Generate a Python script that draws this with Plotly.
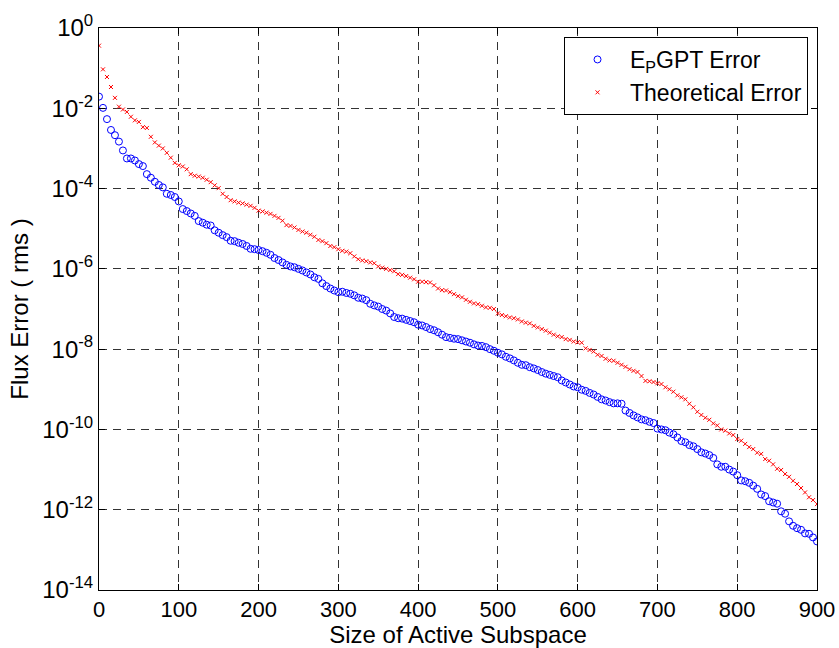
import plotly.graph_objects as go

# Size of active subspace (x values, every 5)
subspace_size = list(range(0, 901, 5))

# log10 of flux error
epgpt_error_exp = [
    -1.71, -1.99, -2.27, -2.54, -2.67, -2.83, -3.05, -3.25, -3.25, -3.30,
    -3.39, -3.44, -3.64, -3.73, -3.83, -3.91, -3.97, -4.13, -4.16, -4.21,
    -4.32, -4.51, -4.56, -4.62, -4.68, -4.81, -4.85, -4.90, -4.92, -5.04,
    -5.10, -5.16, -5.21, -5.30, -5.31, -5.35, -5.38, -5.43, -5.50, -5.51,
    -5.53, -5.56, -5.60, -5.65, -5.73, -5.78, -5.84, -5.90, -5.94, -5.96,
    -6.00, -6.04, -6.09, -6.14, -6.21, -6.25, -6.36, -6.43, -6.49, -6.54,
    -6.58, -6.57, -6.60, -6.62, -6.66, -6.72, -6.74, -6.78, -6.87, -6.91,
    -6.94, -7.00, -7.04, -7.11, -7.20, -7.23, -7.24, -7.27, -7.30, -7.33,
    -7.39, -7.41, -7.45, -7.50, -7.53, -7.58, -7.64, -7.70, -7.72, -7.74,
    -7.75, -7.78, -7.81, -7.84, -7.88, -7.91, -7.92, -7.95, -8.00, -8.04,
    -8.09, -8.13, -8.19, -8.23, -8.28, -8.34, -8.39, -8.40, -8.45, -8.48,
    -8.52, -8.57, -8.61, -8.64, -8.67, -8.70, -8.78, -8.83, -8.88, -8.93,
    -8.95, -9.01, -9.04, -9.09, -9.13, -9.19, -9.25, -9.28, -9.32, -9.35,
    -9.35, -9.36, -9.53, -9.59, -9.65, -9.70, -9.75, -9.77, -9.81, -9.84,
    -9.98, -10.00, -10.02, -10.08, -10.12, -10.20, -10.29, -10.32, -10.39, -10.42,
    -10.49, -10.57, -10.60, -10.64, -10.71, -10.87, -10.93, -10.93, -11.00, -11.05,
    -11.14, -11.27, -11.29, -11.33, -11.40, -11.48, -11.62, -11.66, -11.79, -11.82,
    -11.85, -12.04, -12.10, -12.29, -12.40, -12.46, -12.50, -12.59, -12.60, -12.69,
    -12.79,
]

theoretical_error_exp = [
    -0.44, -1.03, -1.22, -1.47, -1.74, -1.96, -2.03, -2.09, -2.21, -2.30,
    -2.34, -2.47, -2.49, -2.71, -2.85, -2.93, -3.00, -3.11, -3.23, -3.36,
    -3.42, -3.45, -3.52, -3.64, -3.68, -3.70, -3.73, -3.78, -3.84, -3.92,
    -3.99, -4.13, -4.21, -4.29, -4.32, -4.35, -4.37, -4.40, -4.43, -4.48,
    -4.55, -4.57, -4.60, -4.63, -4.68, -4.73, -4.80, -4.91, -4.93, -4.97,
    -5.03, -5.07, -5.10, -5.15, -5.20, -5.28, -5.31, -5.36, -5.43, -5.46,
    -5.51, -5.55, -5.57, -5.61, -5.69, -5.76, -5.79, -5.81, -5.84, -5.86,
    -5.94, -5.97, -6.00, -6.03, -6.06, -6.13, -6.15, -6.18, -6.22, -6.26,
    -6.32, -6.32, -6.33, -6.34, -6.41, -6.49, -6.53, -6.54, -6.58, -6.63,
    -6.68, -6.71, -6.77, -6.82, -6.86, -6.88, -6.92, -6.96, -6.97, -7.00,
    -7.11, -7.15, -7.18, -7.21, -7.23, -7.26, -7.31, -7.34, -7.36, -7.42,
    -7.46, -7.50, -7.54, -7.59, -7.64, -7.68, -7.70, -7.75, -7.77, -7.81,
    -7.83, -7.84, -7.98, -8.02, -8.06, -8.14, -8.17, -8.24, -8.28, -8.29,
    -8.34, -8.39, -8.44, -8.50, -8.54, -8.57, -8.67, -8.79, -8.80, -8.82,
    -8.85, -8.87, -8.95, -9.00, -9.06, -9.15, -9.20, -9.25, -9.36, -9.45,
    -9.56, -9.64, -9.71, -9.76, -9.85, -9.90, -10.00, -10.03, -10.10, -10.14,
    -10.24, -10.28, -10.36, -10.44, -10.49, -10.58, -10.61, -10.74, -10.78, -10.87,
    -10.98, -11.01, -11.11, -11.18, -11.28, -11.36, -11.46, -11.57, -11.69, -11.76,
    -11.86,
]

x_tick_vals = [0, 100, 200, 300, 400, 500, 600, 700, 800, 900]
y_tick_exps = [0, -2, -4, -6, -8, -10, -12, -14]

epgpt_error = [10 ** e for e in epgpt_error_exp]
theoretical_error = [10 ** e for e in theoretical_error_exp]

FONT = "Liberation Sans, Arial, sans-serif"

fig = go.Figure()
fig.add_trace(go.Scatter(
    x=subspace_size, y=epgpt_error, mode="markers",
    name="E<sub>P</sub>GPT Error",
    marker=dict(symbol="circle-open", size=7, color="#0000ff",
                line=dict(width=1, color="#0000ff")),
))
fig.add_trace(go.Scatter(
    x=subspace_size, y=theoretical_error, mode="markers",
    name="Theoretical Error",
    marker=dict(symbol="x-thin", size=4, color="#ff0000",
                line=dict(width=1, color="#ff0000")),
))

fig.update_layout(
    width=839, height=648,
    margin=dict(l=99, r=22, t=28, b=58, autoexpand=False),
    paper_bgcolor="white", plot_bgcolor="white",
    font=dict(family=FONT, size=22, color="black"),
    showlegend=True,
    legend=dict(
        x=0.9875, y=0.984, xanchor="right", yanchor="top",
        bgcolor="white", bordercolor="black", borderwidth=1,
        font=dict(family=FONT, size=23, color="black"),
        itemwidth=55, tracegroupgap=0,
    ),
)

fig.update_xaxes(
    range=[0, 900], tickvals=x_tick_vals,
    ticktext=[str(v) for v in x_tick_vals],
    showline=True, linecolor="black", linewidth=1, mirror="ticks",
    ticks="inside", ticklen=6, tickcolor="black",
    showgrid=True, gridcolor="#333333", gridwidth=1, griddash="8px,6px",
    zeroline=False, automargin=False,
    title=dict(text="Size of Active Subspace", font=dict(size=24), standoff=2),
    tickfont=dict(size=22),
)
fig.update_yaxes(
    type="log", range=[-14, 0],
    tickvals=[10 ** e for e in y_tick_exps],
    ticktext=[f"10<sup>{e}</sup>" for e in y_tick_exps],
    showline=True, linecolor="black", linewidth=1, mirror="ticks",
    ticks="inside", ticklen=6, tickcolor="black",
    showgrid=True, gridcolor="#333333", gridwidth=1, griddash="8px,6px",
    zeroline=False, automargin=False,
    title=dict(text="Flux Error ( rms )", font=dict(size=24), standoff=6),
    tickfont=dict(size=24),
)

fig.write_html("out.html")
